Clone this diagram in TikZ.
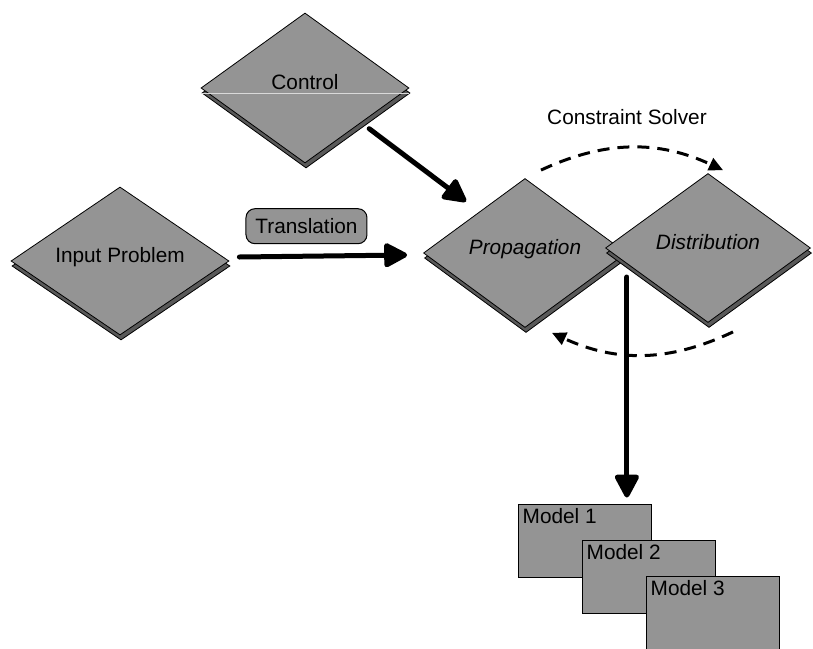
\documentclass[tikz,border=0pt]{standalone}
\usepackage{fontspec}
\setmainfont{Liberation Sans}
\usetikzlibrary{shapes.geometric,shadows,arrows.meta,positioning}
\tikzset{
  txt/.style = {font=\fontsize{20.8}{24}\selectfont},
  sheet/.style = {txt, diamond, aspect=1.4, inner sep=0pt, text depth=13pt, draw=black, line width=0.8pt, fill=black!42,
    minimum width=208pt, minimum height=150pt,
    copy shadow={shadow xshift=1pt, shadow yshift=-5pt, fill=black!65, draw=black}},
  modelbox/.style = {rectangle, draw=black, line width=1pt, fill=black!42, minimum width=133pt, minimum height=73pt, inner sep=0pt},
  tagbox/.style = {txt, rectangle, rounded corners=9pt, draw=black, line width=1pt, fill=black!42, minimum width=121pt, minimum height=35pt, inner sep=0pt},
  bigarrow/.style = {line width=5pt, line cap=round, -{Triangle[round,length=26pt,width=26pt]}},
  looparrow/.style = {line width=3pt, dash pattern=on 12pt off 8pt, -{Triangle[length=14pt,width=13pt]}}
}
\begin{document}
\begin{tikzpicture}[x=1pt,y=-1pt]
  \useasboundingbox (0,0) rectangle (813,648);
  % sheets
  \node [sheet] (ctl) at (305,88) {Control};
  \draw [white!85!black, line width=0.8pt] ([yshift=-5pt]ctl.west) -- ([yshift=-5pt]ctl.east);
  \node [sheet, minimum width=218pt, minimum height=148pt] (inp) at (120,261) {Input Problem};
  \node [sheet, minimum width=203pt, minimum height=149pt] (prop) at (525,253) {\itshape Propagation};
  \node [sheet, minimum width=205pt, minimum height=149pt] (dist) at (708,248) {\itshape Distribution};
  \node [txt] (solver) at (627,117) {Constraint Solver};
  % models
  \node [modelbox, label={[txt, anchor=north west, inner sep=5pt]north west:Model 1}] (mod1) at (584.5,540.5) {};
  \node [modelbox, anchor=north west, label={[txt, anchor=north west, inner sep=5pt]north west:Model 2}] (mod2) at ([xshift=64pt,yshift=-36pt]mod1.north west) {};
  \node [modelbox, anchor=north west, label={[txt, anchor=north west, inner sep=5pt]north west:Model 3}] (mod3) at ([xshift=64pt,yshift=-36pt]mod2.north west) {};
  % arrows
  \draw [bigarrow] ([xshift=12pt,yshift=-3pt]ctl.south east) -- ([xshift=-8pt,yshift=14pt]prop.north west);
  \draw [bigarrow] ([xshift=10pt,yshift=4pt]inp.east) -- ([xshift=-16pt,yshift=-2pt]prop.west)
    node [tagbox, pos=0.4, above=12pt] (trans) {Translation};
  \draw [looparrow] ([xshift=16pt,yshift=8pt]prop.north) to [bend left=25] ([xshift=15pt,yshift=3pt]dist.north);
  \draw [looparrow] ([xshift=25pt,yshift=-9pt]dist.south) to [bend left=25] ([xshift=27pt,yshift=-5pt]prop.south);
  \draw [bigarrow] ([yshift=-24pt]prop.east) -- ([yshift=6pt]prop.east |- mod1.north);
\end{tikzpicture}
\end{document}
